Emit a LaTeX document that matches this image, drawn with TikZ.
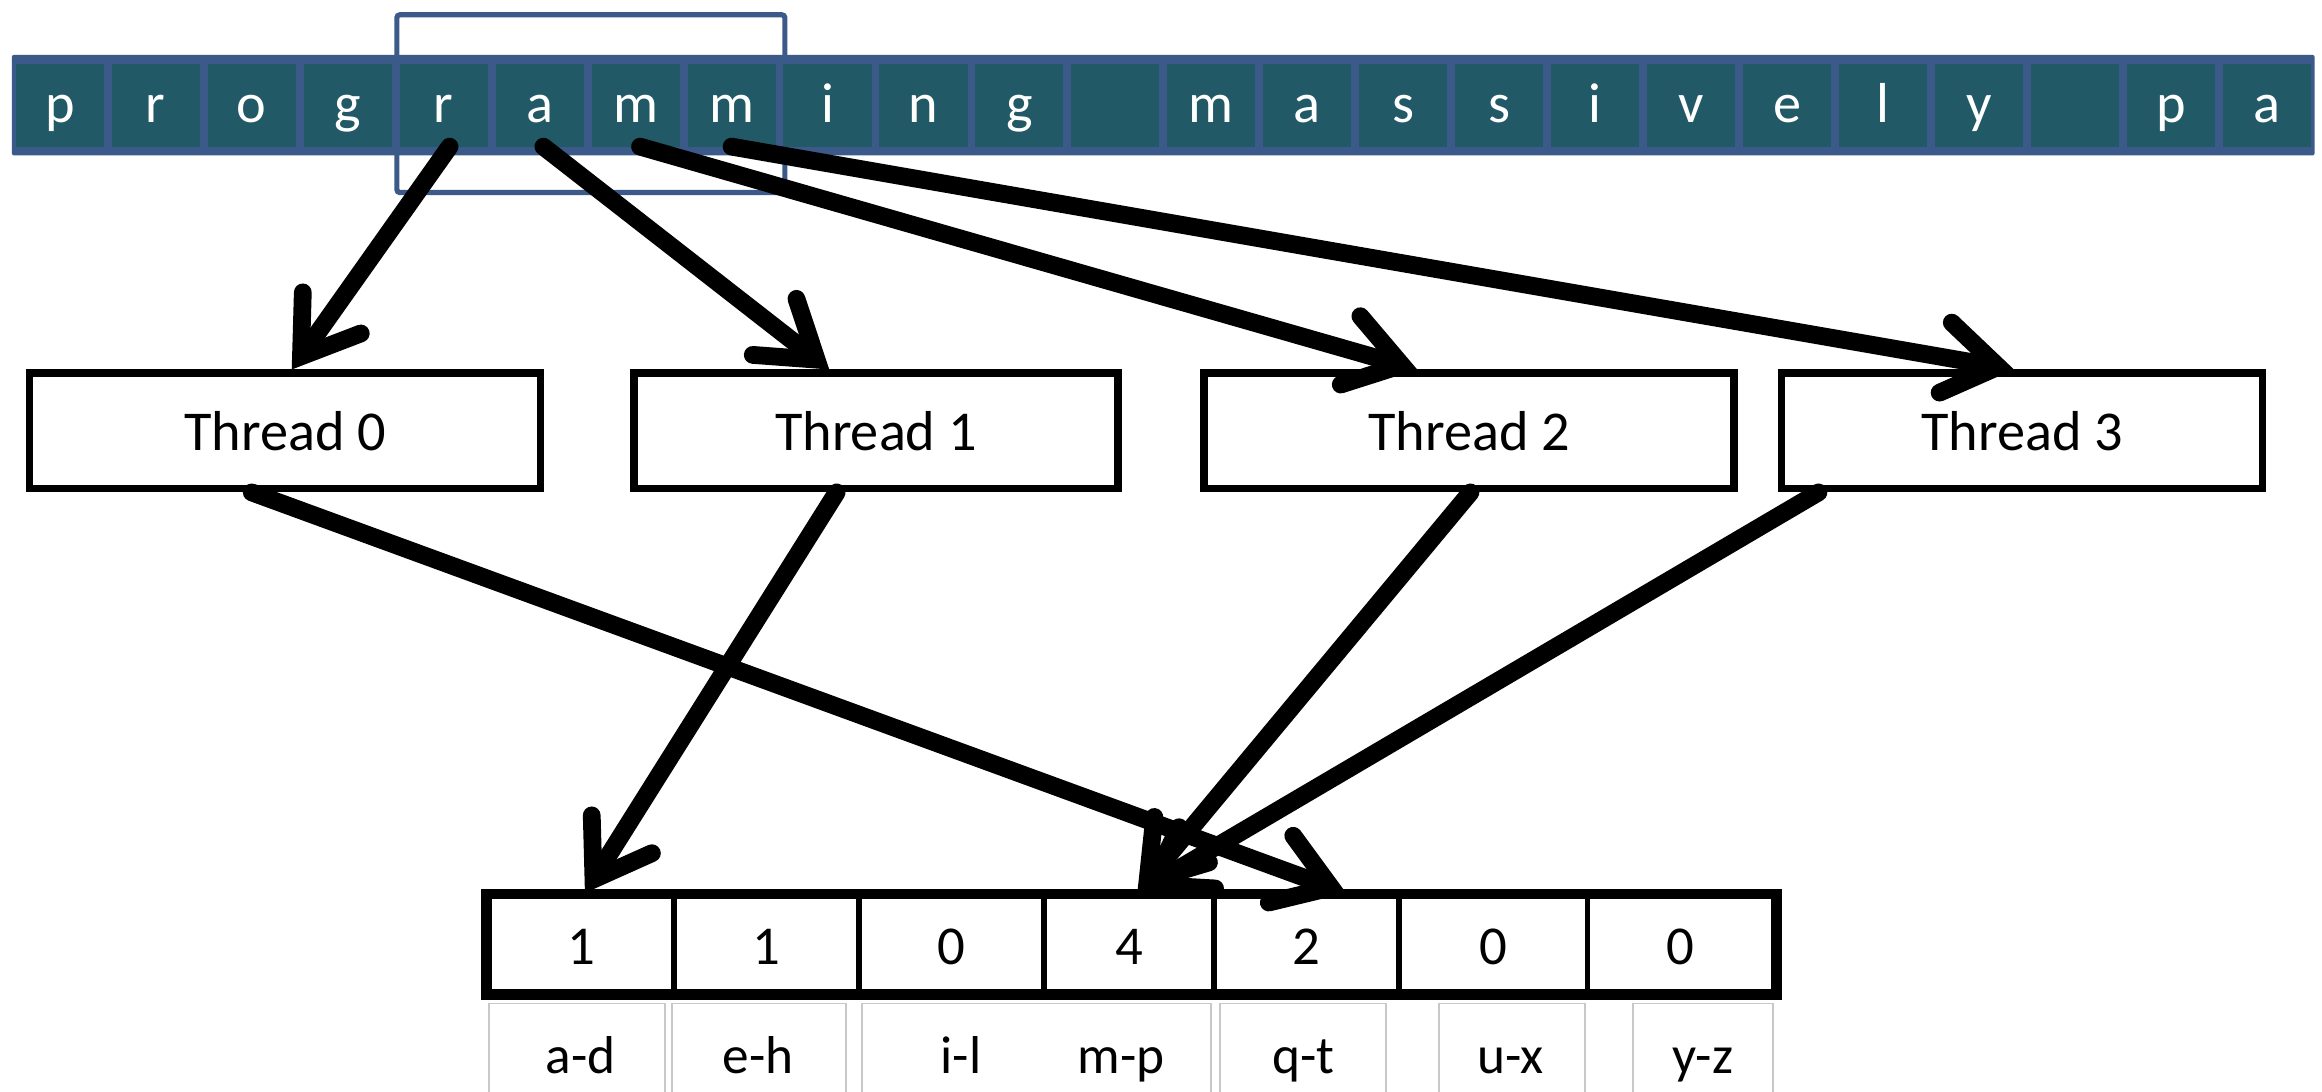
\documentclass[tikz,border=0pt]{standalone}
\usepackage{fontspec}
\setmainfont{Carlito}
\usetikzlibrary{arrows.meta,calc}
\definecolor{barblue}{RGB}{59,90,138}
\definecolor{cellteal}{RGB}{33,89,103}
\definecolor{lblgray}{RGB}{200,200,200}
\tikzset{
  fat/.style={line width=12pt, line cap=round,
    -{Straight Barb[length=36pt,width=48pt,line cap=round,line join=miter]}},
  cell/.style={fill=cellteal, minimum width=59.5pt, minimum height=56pt,
    inner sep=0pt, outer sep=0pt, text=white, font=\fontsize{38}{40}\selectfont,
    text height=30pt, text depth=6pt},
  thread/.style={draw, line width=5pt, minimum height=78pt, inner sep=0pt,
    font=\fontsize{38}{40}\selectfont, text height=32pt, text depth=6pt},
  bin/.style={draw, line width=4pt, minimum height=65pt, inner sep=0pt,
    font=\fontsize{37}{40}\selectfont, text height=32pt, text depth=5pt},
  lblbox/.style={draw=lblgray, line width=1.3pt, minimum height=90pt, inner sep=0pt, anchor=north},
  lbl/.style={font=\fontsize{36}{40}\selectfont, anchor=base, inner sep=0pt},
}
\begin{document}
\begin{tikzpicture}[x=1pt,y=-1pt]
\useasboundingbox (0,0) rectangle (1568,737);
\clip (0,0) rectangle (1568,737);
% highlight window
\draw[barblue, line width=3.5pt, rounded corners=2pt] (268,10) rectangle (530,130);
% character bar
\fill[barblue, rounded corners=1.5pt] (8,37) rectangle (1563,105);
\foreach \ch [count=\i from 0] in {p,r,o,g,r,a,m,m,i,n,g,{},m,a,s,s,i,v,e,l,y,{},p,a} {
  \node[cell] (c\i) at ({8+64.8*\i+32.4},71) {\ch};
}
% threads
\node[thread, minimum width=345pt] (t0) at (192.5,291) {Thread 0};
\node[thread, minimum width=327pt] (t1) at (591.5,291) {Thread 1};
\node[thread, minimum width=358pt] (t2) at (992,291) {Thread 2};
\node[thread, minimum width=325pt] (t3) at (1365.5,291) {Thread 3};
% label boxes
\node[lblbox, minimum width=119pt] (l0) at (389.5,677) {};
\node[lblbox, minimum width=117pt] (l1) at (512.5,677) {};
\node[lblbox, minimum width=236pt] (l2) at (700,677) {};
\node[lblbox, minimum width=112pt] (l3) at (880,677) {};
\node[lblbox, minimum width=98pt]  (l4) at (1021,677) {};
\node[lblbox, minimum width=94pt]  (l5) at (1150,677) {};
\node[lbl] (n0) at (392,725) {a-d};
\node[lbl] (n1) at (512,725) {e-h};
\node[lbl] (n2) at (649,725) {i-l};
\node[lbl] (n3) at (757,725) {m-p};
\node[lbl] (n4) at (880,725) {q-t};
\node[lbl] (n5) at (1020,725) {u-x};
\node[lbl] (n6) at (1150,725) {y-z};
% histogram bins
\foreach \l/\r/\v [count=\i from 0] in {330/455/1,455/580/1,580/705/0,705/820/4,820/945/2,945/1072/0,1072/1198/0} {
  \node[bin, minimum width={\r-\l}] (b\i) at ({(\l+\r)/2},637.5) {\v};
}
\draw[line width=6pt] (b0.north west) rectangle (b6.south east);
% arrows: characters to threads
\draw[fat] ([xshift=4pt]c4.south) -- ([xshift=4.5pt]t0.north);
\draw[fat] ([xshift=2.5pt]c5.south) -- ([xshift=-31.5pt]t1.north);
\draw[fat] ([xshift=3pt]c6.south) -- ([xshift=-35pt]t2.north);
\draw[fat] (c7.south) -- ([xshift=-5.5pt]t3.north);
% arrows: threads to bins
\draw[fat] ([xshift=-22.5pt]t0.south) -- ([xshift=26.5pt]b4.north);
\draw[fat] ([xshift=-26.5pt]t1.south) -- ([xshift=2.5pt]b0.north);
\draw[fat] ([xshift=1pt]t2.south) -- ([xshift=5.5pt]b3.north);
\draw[fat] ([xshift=-137.5pt]t3.south) -- ([xshift=5.5pt]b3.north);
\end{tikzpicture}
\end{document}
